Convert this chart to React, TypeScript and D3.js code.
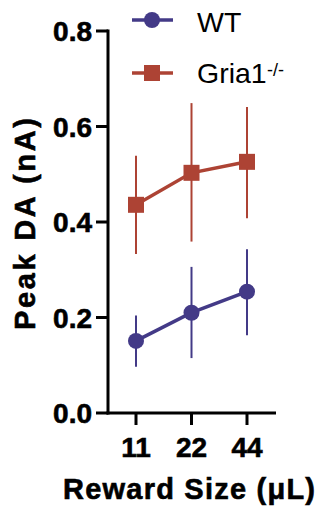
import React from "react";
import * as d3 from "d3";

const categories = ["11", "22", "44"];
const wtMean = [0.151, 0.21, 0.254];
const wtLow = [0.097, 0.115, 0.163];
const wtHigh = [0.204, 0.306, 0.343];
const grMean = [0.436, 0.503, 0.526];
const grLow = [0.333, 0.359, 0.408];
const grHigh = [0.539, 0.649, 0.641];
const yTicks = [0, 0.2, 0.4, 0.6, 0.8];

const WT = "#433a87";
const GR = "#ad4334";
const FONT = "'Liberation Sans', Arial, sans-serif";

export default function App() {
  const x = d3.scalePoint<string>().domain(categories).range([136, 247]);
  const y = d3.scaleLinear().domain([0, 0.8]).range([413, 31]);
  const line = d3
    .line<number>()
    .x((_, i) => x(categories[i]) as number)
    .y((d) => y(d));

  const series = [
    { name: "WT", mean: wtMean, low: wtLow, high: wtHigh, color: WT, shape: "circle" },
    { name: "Gria1", mean: grMean, low: grLow, high: grHigh, color: GR, shape: "square" },
  ];

  return (
    <svg
      width={324}
      height={509}
      style={{ position: "absolute", left: 0, top: 0, background: "#fff" }}
      fontFamily={FONT}
    >
      {/* series */}
      {series.map((s) => (
        <g key={s.name}>
          {s.mean.map((_, i) => (
            <line
              key={"e" + i}
              x1={x(categories[i])}
              x2={x(categories[i])}
              y1={y(s.low[i])}
              y2={y(s.high[i])}
              stroke={s.color}
              strokeWidth={2}
            />
          ))}
          <path d={line(s.mean) || ""} fill="none" stroke={s.color} strokeWidth={3.5} />
          {s.mean.map((v, i) =>
            s.shape === "circle" ? (
              <circle key={"m" + i} cx={x(categories[i])} cy={y(v)} r={8} fill={s.color} />
            ) : (
              <rect
                key={"m" + i}
                x={(x(categories[i]) as number) - 8}
                y={y(v) - 8}
                width={16}
                height={16}
                fill={s.color}
              />
            )
          )}
        </g>
      ))}

      {/* y axis */}
      <line x1={108} x2={108} y1={y(0.8) - 1.5} y2={y(0) + 1.5} stroke="#000" strokeWidth={3} />
      {yTicks.map((t) => (
        <g key={t}>
          <line x1={96} x2={108} y1={y(t)} y2={y(t)} stroke="#000" strokeWidth={3} />
          <text
            x={92}
            y={y(t) + 10}
            textAnchor="end"
            fontWeight="bold"
            fontSize={28}
            stroke="#000"
            strokeWidth={0.6}
          >
            {t.toFixed(1)}
          </text>
        </g>
      ))}

      {/* x axis */}
      <line x1={106.5} x2={276} y1={y(0)} y2={y(0)} stroke="#000" strokeWidth={3} />
      {categories.map((c) => (
        <g key={c}>
          <line x1={x(c)} x2={x(c)} y1={y(0)} y2={y(0) + 12} stroke="#000" strokeWidth={3} />
          <text
            x={x(c)}
            y={457}
            textAnchor="middle"
            fontWeight="bold"
            fontSize={28}
            stroke="#000"
            strokeWidth={0.6}
          >
            {c}
          </text>
        </g>
      ))}

      {/* axis titles */}
      <text
        x={189}
        y={499}
        textAnchor="middle"
        fontWeight="bold"
        fontSize={29}
        textLength={252}
        stroke="#000"
        strokeWidth={0.6}
      >
        Reward Size (μL)
      </text>
      <text
        transform="translate(35,224) rotate(-90)"
        textAnchor="middle"
        fontWeight="bold"
        fontSize={29}
        textLength={212}
        stroke="#000"
        strokeWidth={0.6}
      >
        Peak DA (nA)
      </text>

      {/* legend */}
      <line x1={132} x2={173} y1={20} y2={20} stroke={WT} strokeWidth={3.5} />
      <circle cx={152} cy={20} r={8} fill={WT} />
      <text x={197} y={32} fontSize={28.5}>
        WT
      </text>
      <line x1={132} x2={173} y1={73} y2={73} stroke={GR} strokeWidth={3.5} />
      <rect x={144} y={65} width={16} height={16} fill={GR} />
      <text x={197} y={83} fontSize={28.5}>
        Gria1
      </text>
      <text x={267} y={76} fontSize={18}>
        -/-
      </text>
    </svg>
  );
}
